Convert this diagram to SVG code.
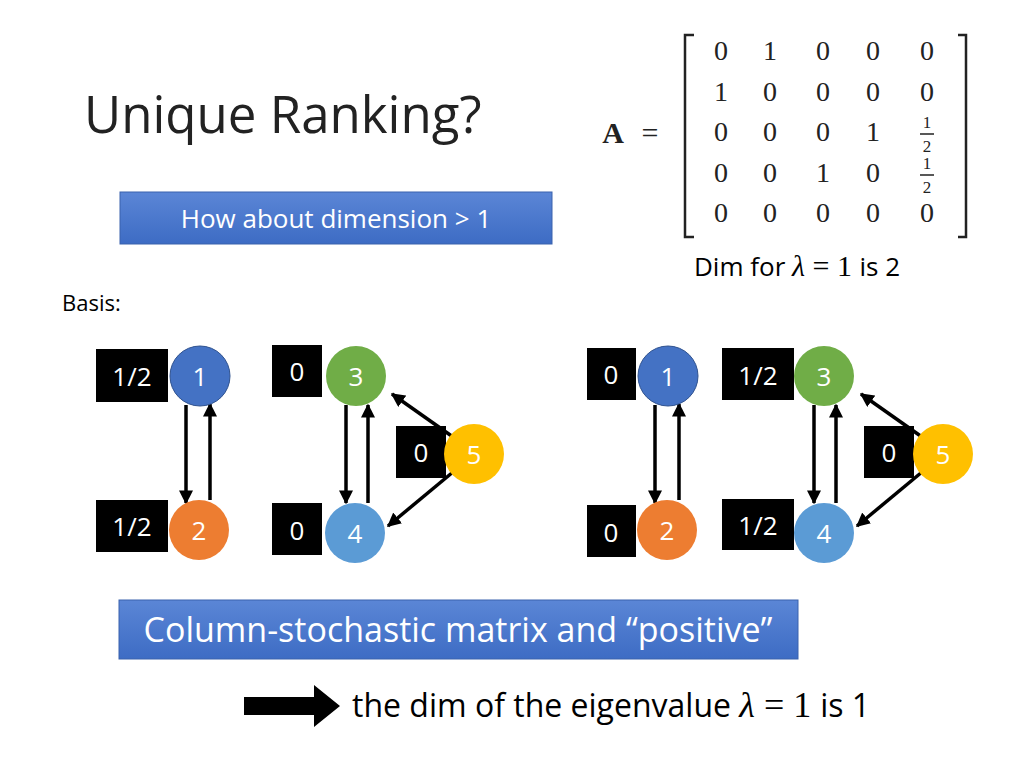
<svg xmlns="http://www.w3.org/2000/svg" width="1024" height="768" viewBox="0 0 1024 768">
<defs>
<marker id="ah" viewBox="0 0 10 10" refX="9" refY="5" markerWidth="4" markerHeight="4" orient="auto"><path d="M0,0L10,5L0,10z" fill="#000"/></marker>
<linearGradient id="bg" x1="0" y1="0" x2="0" y2="1"><stop offset="0" stop-color="#5b86d6"/><stop offset="1" stop-color="#3d6cc4"/></linearGradient>
</defs>
<style>
.s{font-family:"Open Sans","Noto Sans",sans-serif}
.lb{fill:#000}
.lt{fill:#fff;font-size:26px;text-anchor:middle;font-family:"Open Sans","Noto Sans",sans-serif}
.nt{fill:#fff;font-size:26px;text-anchor:middle;font-family:"Open Sans","Noto Sans",sans-serif}
.m text{font-family:"Liberation Serif","DejaVu Serif",serif;font-size:28px;text-anchor:middle;fill:#222}
.f text{font-family:"Liberation Serif","DejaVu Serif",serif;font-size:17px;text-anchor:middle;fill:#222}
.mi{font-family:"Liberation Serif","DejaVu Serif",serif;font-style:italic}
.me{font-family:"Liberation Serif","DejaVu Serif",serif}
.c{stroke:#000;stroke-width:3.5;fill:none;marker-end:url(#ah)}
</style>
<rect width="1024" height="768" fill="#fff"/>
<text x="84" y="133" font-size="51" fill="#222" class="s">Unique Ranking?</text>
<g id="matrix">
<text x="613" y="143" style="font-family:'Liberation Serif',serif;font-weight:bold;font-size:30px" fill="#222" text-anchor="middle">A</text>
<text x="650" y="143" style="font-family:'Liberation Serif',serif;font-size:30px" fill="#222" text-anchor="middle">=</text>
<path d="M694,35H685V237H694M958,35H966V237H958" stroke="#222" stroke-width="2.5" fill="none"/>
<g class="m">
<text x="721" y="60">0</text><text x="770" y="60">1</text><text x="823" y="60">0</text><text x="873" y="60">0</text><text x="927" y="60">0</text>
<text x="721" y="101">1</text><text x="770" y="101">0</text><text x="823" y="101">0</text><text x="873" y="101">0</text><text x="927" y="101">0</text>
<text x="721" y="141">0</text><text x="770" y="141">0</text><text x="823" y="141">0</text><text x="873" y="141">1</text>
<text x="721" y="182">0</text><text x="770" y="182">0</text><text x="823" y="182">1</text><text x="873" y="182">0</text>
<text x="721" y="222">0</text><text x="770" y="222">0</text><text x="823" y="222">0</text><text x="873" y="222">0</text><text x="927" y="222">0</text>
</g>
<g class="f">
<text x="927" y="128">1</text><text x="927" y="152">2</text><text x="927" y="169">1</text><text x="927" y="193">2</text>
</g>
<path d="M920,134H934M920,175H934" stroke="#222" stroke-width="1.3"/>
<text x="694" y="276" font-size="26" fill="#000" class="s">Dim for <tspan class="mi" font-size="30">λ</tspan><tspan class="me" font-size="30"> = 1 </tspan>is 2</text>
</g>
<g id="box1"><rect x="120" y="192" width="432" height="52" fill="url(#bg)" stroke="#3a62ad"/><text x="336" y="228" font-size="26" fill="#fff" text-anchor="middle" class="s">How about dimension &gt; 1</text></g>
<text x="62" y="311" font-size="22" fill="#000" class="s">Basis:</text>
<g id="connectors">
<line x1="186" y1="405" x2="186" y2="503" class="c"/>
<line x1="210" y1="500" x2="210" y2="404" class="c"/>
<line x1="346" y1="405" x2="346" y2="503" class="c"/>
<line x1="368" y1="503" x2="368" y2="405" class="c"/>
<line x1="453" y1="437" x2="392" y2="394" class="c"/>
<line x1="453" y1="472" x2="388" y2="526" class="c"/>
<line x1="655" y1="405" x2="655" y2="503" class="c"/>
<line x1="679" y1="500" x2="679" y2="404" class="c"/>
<line x1="814" y1="405" x2="814" y2="503" class="c"/>
<line x1="836" y1="503" x2="836" y2="405" class="c"/>
<line x1="922" y1="437" x2="861" y2="394" class="c"/>
<line x1="922" y1="472" x2="857" y2="526" class="c"/>
</g>
<g id="labels">
<rect x="96" y="349" width="72" height="53" class="lb"/><text x="132" y="386" class="lt">1/2</text>
<rect x="96" y="500" width="72" height="52" class="lb"/><text x="132" y="536" class="lt">1/2</text>
<rect x="272" y="345" width="50" height="52" class="lb"/><text x="297" y="381" class="lt">0</text>
<rect x="272" y="503" width="50" height="52" class="lb"/><text x="297" y="540" class="lt">0</text>
<rect x="396" y="426" width="50" height="52" class="lb"/><text x="421" y="462" class="lt">0</text>
<rect x="587" y="348" width="49" height="52" class="lb"/><text x="611" y="384" class="lt">0</text>
<rect x="587" y="505" width="49" height="52" class="lb"/><text x="611" y="542" class="lt">0</text>
<rect x="722" y="348" width="72" height="52" class="lb"/><text x="758" y="385" class="lt">1/2</text>
<rect x="722" y="499" width="72" height="51" class="lb"/><text x="758" y="535" class="lt">1/2</text>
<rect x="864" y="426" width="50" height="52" class="lb"/><text x="889" y="462" class="lt">0</text>
</g>
<g id="n1"><circle cx="200" cy="376" r="30" fill="#4472c4" stroke="#2f528f"/><text x="200" y="386" class="nt">1</text></g>
<g id="n2"><circle cx="199" cy="530" r="30" fill="#ed7d31"/><text x="199" y="540" class="nt">2</text></g>
<g id="n3"><circle cx="356" cy="376" r="30" fill="#70ad47"/><text x="356" y="386" class="nt">3</text></g>
<g id="n4"><circle cx="355" cy="533" r="30" fill="#5b9bd5"/><text x="355" y="543" class="nt">4</text></g>
<g id="n5"><circle cx="474" cy="454" r="30" fill="#ffc000"/><text x="474" y="464" class="nt">5</text></g>
<g id="m1"><circle cx="668" cy="376" r="30" fill="#4472c4" stroke="#2f528f"/><text x="668" y="386" class="nt">1</text></g>
<g id="m2"><circle cx="667" cy="530" r="30" fill="#ed7d31"/><text x="667" y="540" class="nt">2</text></g>
<g id="m3"><circle cx="824" cy="376" r="30" fill="#70ad47"/><text x="824" y="386" class="nt">3</text></g>
<g id="m4"><circle cx="824" cy="533" r="30" fill="#5b9bd5"/><text x="824" y="543" class="nt">4</text></g>
<g id="m5"><circle cx="943" cy="454" r="30" fill="#ffc000"/><text x="943" y="464" class="nt">5</text></g>
<g id="box2"><rect x="119" y="600" width="679" height="59" fill="url(#bg)" stroke="#3a62ad"/><text x="458" y="642" font-size="34" fill="#fff" text-anchor="middle" class="s">Column-stochastic matrix and “positive”</text></g>
<path d="M244,697H314V685L340,706L314,727V715H244z" fill="#000"/>
<text x="352" y="717" font-size="32" fill="#000" class="s">the dim of the eigenvalue <tspan class="mi" font-size="36">λ</tspan><tspan class="me" font-size="36"> = 1 </tspan>is 1</text>
</svg>
